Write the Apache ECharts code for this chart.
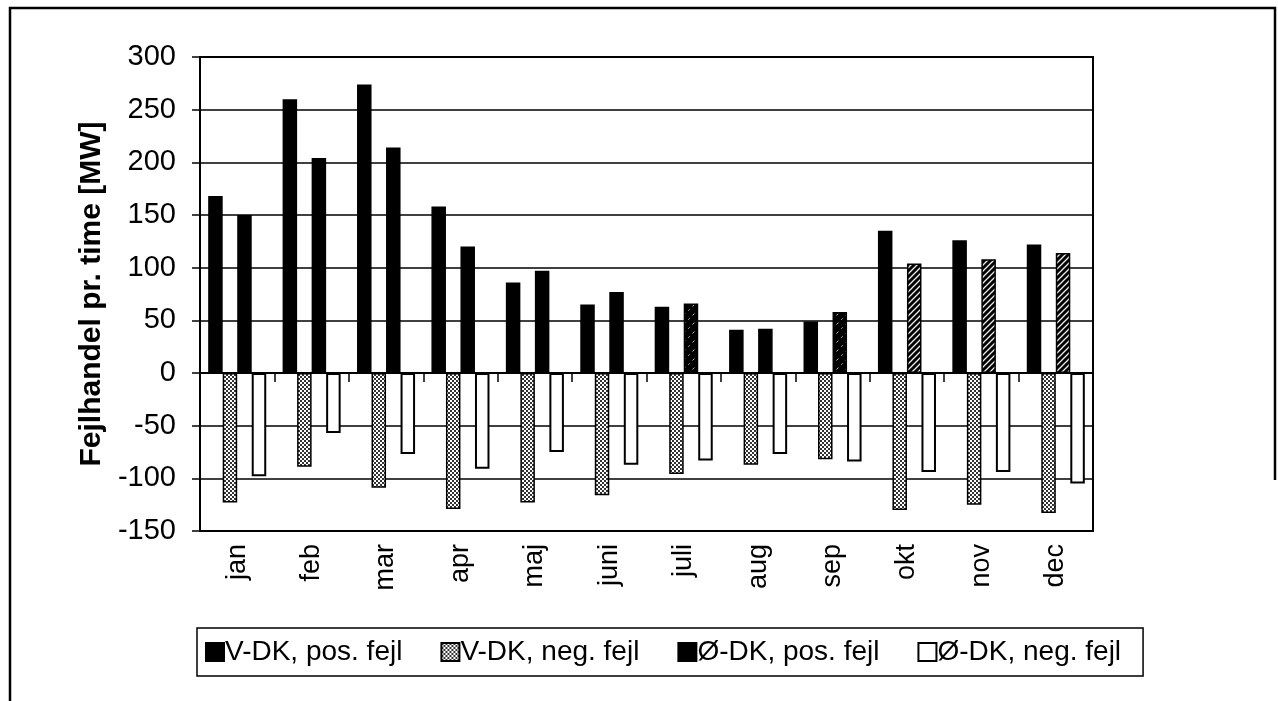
<!DOCTYPE html>
<html>
<head>
<meta charset="utf-8">
<script src="https://cdn.jsdelivr.net/npm/echarts@6/dist/echarts.min.js"></script>
<style>
  html, body { margin: 0; padding: 0; background: #fff; }
  #chart { width: 1278px; height: 701px; }
</style>
</head>
<body>
<div id="chart"></div>
<script>
// data
const months = ["jan", "feb", "mar", "apr", "maj", "juni", "juli", "aug", "sep", "okt", "nov", "dec"];
const vdkPos = [168, 260, 274, 158, 86, 65, 63, 41, 49, 135, 126, 122];
const vdkNeg = [-123, -89, -109, -129, -123, -116, -96, -87, -82, -130, -125, -133];
const odkPos = [150, 204, 214, 120, 97, 77, 66, 42, 58, 104, 108, 114];
const odkNeg = [-98, -57, -77, -91, -75, -87, -83, -77, -84, -94, -94, -105];
const yTicks = { min: -150, max: 300, step: 50 };

// fill style of the Ø-DK pos bars (solid / sparse / hatch)
const odkPosFill = ["solid", "solid", "solid", "solid", "solid", "solid", "sparse", "solid", "sparse", "hatch", "hatch", "hatch"];

const FONT = "'Liberation Sans', Arial, sans-serif";

// patterns
function dots() {
  const c = document.createElement("canvas");
  c.width = 4; c.height = 4;
  const ctx = c.getContext("2d");
  ctx.fillStyle = "#fff";
  ctx.fillRect(0, 0, 4, 4);
  ctx.fillStyle = "#333";
  ctx.fillRect(0, 0, 2, 2);
  ctx.fillRect(2, 2, 2, 2);
  return { image: c, repeat: "repeat" };
}
function hatch(sparse) {
  const s = sparse ? 9 : 6;
  const c = document.createElement("canvas");
  c.width = s; c.height = s;
  const ctx = c.getContext("2d");
  ctx.fillStyle = "#000";
  ctx.fillRect(0, 0, s, s);
  ctx.strokeStyle = sparse ? "#bbb" : "#eee";
  ctx.lineWidth = sparse ? 1 : 1.3;
  if (sparse) ctx.setLineDash([2, 4]);
  ctx.beginPath();
  ctx.moveTo(0, s); ctx.lineTo(s, 0);
  ctx.moveTo(-1, 1); ctx.lineTo(1, -1);
  ctx.moveTo(s - 1, s + 1); ctx.lineTo(s + 1, s - 1);
  ctx.stroke();
  return { image: c, repeat: "repeat" };
}
const dotFill = dots();
const hatchFill = hatch(false);
const sparseFill = hatch(true);

let myChart = echarts.init(document.getElementById("chart"));

const barBorder = { borderColor: "#000", borderWidth: 1.5 };

myChart.setOption({
  animation: false,
  backgroundColor: "#fff",
  grid: {
    left: 200,
    right: 185,
    top: 57,
    bottom: 170,
    show: true,
    borderColor: "#000",
    borderWidth: 2
  },
  legend: {
    left: 197,
    top: 628,
    padding: [10, 22, 10, 8],
    borderColor: "#000",
    borderWidth: 1.5,
    itemGap: 38,
    itemWidth: 18,
    itemHeight: 18,
    icon: "rect",
    textStyle: { fontFamily: FONT, fontSize: 28, color: "#000", padding: [0, 0, 0, -4] },
    data: ["V-DK, pos. fejl", "V-DK, neg. fejl", "Ø-DK, pos. fejl", "Ø-DK, neg. fejl"]
  },
  xAxis: [
    {
      // category axis crossing at zero, only the tick marks
      type: "category",
      data: months,
      position: "top",
      axisLine: { onZero: true, lineStyle: { color: "#000", width: 2 } },
      axisTick: { show: true, inside: true, length: 9, lineStyle: { color: "#000", width: 1.5 } },
      axisLabel: { show: false },
      splitLine: { show: false }
    },
    {
      // labels below the plot
      type: "category",
      data: months,
      position: "bottom",
      axisLine: { show: false, onZero: false },
      axisTick: { show: false },
      axisLabel: { rotate: 90, margin: 13, fontFamily: FONT, fontSize: 27, color: "#000" }
    }
  ],
  yAxis: {
    type: "value",
    min: yTicks.min,
    max: yTicks.max,
    interval: yTicks.step,
    name: "Fejlhandel pr. time [MW]",
    nameLocation: "middle",
    nameGap: 82,
    nameTextStyle: { fontFamily: FONT, fontSize: 30, fontWeight: "bold", color: "#000" },
    axisLine: { show: true, lineStyle: { color: "#000", width: 2 } },
    axisTick: { show: true, length: 8, lineStyle: { color: "#000", width: 1.5 } },
    axisLabel: { margin: 24, fontFamily: FONT, fontSize: 29, color: "#000" },
    splitLine: { lineStyle: { color: "#000", width: 1.5 } }
  },
  series: [
    {
      name: "V-DK, pos. fejl",
      type: "bar",
      data: vdkPos,
      barGap: "0%",
      barCategoryGap: "22%",
      itemStyle: Object.assign({ color: "#000" }, barBorder)
    },
    {
      name: "V-DK, neg. fejl",
      type: "bar",
      data: vdkNeg,
      itemStyle: Object.assign({ color: dotFill }, barBorder)
    },
    {
      name: "Ø-DK, pos. fejl",
      type: "bar",
      data: odkPos.map((v, i) => {
        const f = odkPosFill[i];
        if (f === "solid") return v;
        return { value: v, itemStyle: { color: f === "hatch" ? hatchFill : sparseFill } };
      }),
      itemStyle: Object.assign({ color: "#000" }, barBorder)
    },
    {
      name: "Ø-DK, neg. fejl",
      type: "bar",
      data: odkNeg,
      itemStyle: { color: "#fff", borderColor: "#000", borderWidth: 2 }
    }
  ],
  graphic: [
    // outer frame
    { type: "polyline", silent: true, shape: { points: [[10, 701], [10, 8], [1275, 8], [1275, 480]] },
      style: { stroke: "#000", lineWidth: 2.5, fill: null } }
  ]
})
</script>
</body>
</html>
